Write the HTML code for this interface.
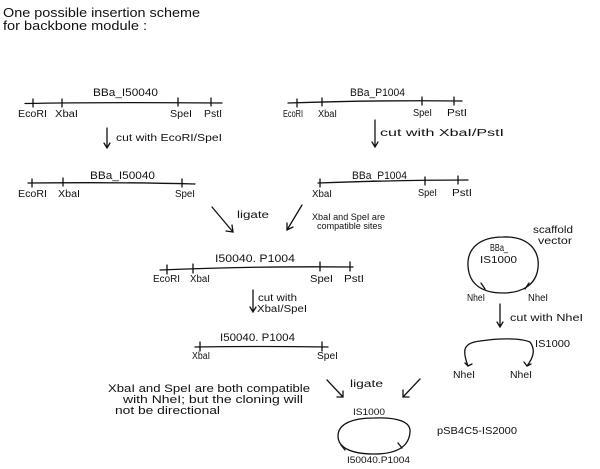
<!DOCTYPE html>
<html><head><meta charset="utf-8"><style>
html,body{margin:0;padding:0;background:#fff;}
svg{display:block;}
text{font-family:"Liberation Sans",sans-serif;fill:#111;}
</style></head><body>
<svg width="600" height="469" viewBox="0 0 600 469" xmlns="http://www.w3.org/2000/svg">
<g stroke="#111" stroke-width="1.3" fill="none" stroke-linecap="round">
<!-- Diagram 1 -->
<path d="M25 103.5 Q100 102 222 103"/>
<path d="M33 99v8M62 99v8M178 98v8M211 98v8"/>
<!-- Arrow 1 -->
<path d="M107 128v20M104 143l3 5 3-5"/>
<!-- Diagram 2 -->
<path d="M288 103 Q380 100 462 101"/>
<path d="M297 99v8M322 98v8M422 97v8M454 97v8"/>
<!-- Arrow 2 -->
<path d="M375 120v27M372 142l3 5 3-5"/>
<!-- Diagram 3 -->
<path d="M28 183 Q120 182 195 184"/>
<path d="M32 179v8M63 178v8M182 179v8"/>
<!-- Diagram 4 -->
<path d="M318 183 Q400 180 468 180"/>
<path d="M320 179v8M425 177v8M458 176v8"/>
<!-- ligate arrows -->
<path d="M212 207 L233 232M226 231l7 1-1-7"/>
<path d="M302 205 L287 230M287 223l0 7 6-3"/>
<!-- Diagram 5 -->
<path d="M160 270 Q250 266 353 267"/>
<path d="M167 265v9M193 264v9M320 262v9M350 262v9"/>
<!-- Arrow 3 -->
<path d="M253 290v22M250 307l3 5 3-5"/>
<!-- Diagram 6 -->
<path d="M195 347 Q260 346 328 347"/>
<path d="M200 342v9M322 342v9"/>
<!-- Scaffold circle -->
<path d="M503 237 C528 236 540 250 538 268 C536 285 522 293 503 293 C483 293 469 285 468 266 C467 248 480 237 503 237Z"/>
<path d="M481 283l4 6M529 283l-4 6"/>
<!-- Arrow 4 -->
<path d="M500 304v23M497 322l3 5 3-5"/>
<!-- Arc -->
<path d="M468 366 C462 350 463 343 480 341 C500 338 520 338 530 342 C536 350 533 358 527 366"/>
<path d="M465 363l3 3 4-2M524 362l3 4 4-2"/>
<!-- bottom ligate arrows -->
<path d="M327 380 L343 397M337 397l6 0 0-6"/>
<path d="M420 379 L403 397M403 390l0 7 6 0"/>
<!-- bottom ellipse -->
<path d="M374 418 C398 417 411 422 410 432 C409 446 398 454 374 454 C350 454 338 447 338 436 C338 424 352 418 374 418Z"/>
<path d="M341 445l4 5M398 443l4 5"/>
</g>

<g font-size="11">
<text x="3" y="17" font-size="13" textLength="197" lengthAdjust="spacingAndGlyphs">One possible insertion scheme</text>
<text x="3" y="30" font-size="13" textLength="144" lengthAdjust="spacingAndGlyphs">for backbone module :</text>

<text x="93" y="96" textLength="65" lengthAdjust="spacingAndGlyphs">BBa_I50040</text>
<text x="18" y="117" font-size="10" textLength="29" lengthAdjust="spacingAndGlyphs">EcoRI</text>
<text x="55" y="117" font-size="10" textLength="23" lengthAdjust="spacingAndGlyphs">XbaI</text>
<text x="170" y="117" font-size="10" textLength="22" lengthAdjust="spacingAndGlyphs">SpeI</text>
<text x="204" y="117" font-size="10" textLength="18" lengthAdjust="spacingAndGlyphs">PstI</text>
<text x="116" y="141" font-size="10" textLength="106" lengthAdjust="spacingAndGlyphs">cut with EcoRI/SpeI</text>

<text x="350" y="96" textLength="55" lengthAdjust="spacingAndGlyphs">BBa_P1004</text>
<text x="283" y="117" font-size="10" textLength="20" lengthAdjust="spacingAndGlyphs">EcoRI</text>
<text x="318" y="117" font-size="10" textLength="19" lengthAdjust="spacingAndGlyphs">XbaI</text>
<text x="413" y="116" font-size="10" textLength="19" lengthAdjust="spacingAndGlyphs">SpeI</text>
<text x="447" y="116" font-size="10" textLength="20" lengthAdjust="spacingAndGlyphs">PstI</text>
<text x="380" y="136" font-size="10" textLength="124" lengthAdjust="spacingAndGlyphs">cut with XbaI/PstI</text>

<text x="90" y="179" textLength="65" lengthAdjust="spacingAndGlyphs">BBa_I50040</text>
<text x="18" y="197" font-size="10" textLength="29" lengthAdjust="spacingAndGlyphs">EcoRI</text>
<text x="58" y="197" font-size="10" textLength="22" lengthAdjust="spacingAndGlyphs">XbaI</text>
<text x="175" y="197" font-size="10" textLength="20" lengthAdjust="spacingAndGlyphs">SpeI</text>

<text x="352" y="179" textLength="55" lengthAdjust="spacingAndGlyphs">BBa_P1004</text>
<text x="312" y="197" font-size="10" textLength="20" lengthAdjust="spacingAndGlyphs">XbaI</text>
<text x="418" y="196" font-size="10" textLength="19" lengthAdjust="spacingAndGlyphs">SpeI</text>
<text x="452" y="196" font-size="10" textLength="20" lengthAdjust="spacingAndGlyphs">PstI</text>

<text x="237" y="218" font-size="10" textLength="32" lengthAdjust="spacingAndGlyphs">ligate</text>
<text x="312" y="220" font-size="9" textLength="73" lengthAdjust="spacingAndGlyphs">XbaI and SpeI are</text>
<text x="317" y="229" font-size="9" textLength="65" lengthAdjust="spacingAndGlyphs">compatible sites</text>

<text x="215" y="262" textLength="80" lengthAdjust="spacingAndGlyphs">I50040. P1004</text>
<text x="153" y="282" font-size="10" textLength="27" lengthAdjust="spacingAndGlyphs">EcoRI</text>
<text x="190" y="282" font-size="10" textLength="20" lengthAdjust="spacingAndGlyphs">XbaI</text>
<text x="310" y="282" font-size="10" textLength="23" lengthAdjust="spacingAndGlyphs">SpeI</text>
<text x="344" y="282" font-size="10" textLength="20" lengthAdjust="spacingAndGlyphs">PstI</text>
<text x="258" y="301" font-size="10" textLength="39" lengthAdjust="spacingAndGlyphs">cut with</text>
<text x="257" y="312" font-size="10" textLength="50" lengthAdjust="spacingAndGlyphs">XbaI/SpeI</text>

<text x="220" y="341" textLength="75" lengthAdjust="spacingAndGlyphs">I50040. P1004</text>
<text x="192" y="359" font-size="10" textLength="18" lengthAdjust="spacingAndGlyphs">XbaI</text>
<text x="317" y="359" font-size="10" textLength="21" lengthAdjust="spacingAndGlyphs">SpeI</text>

<text x="490" y="251" font-size="10" textLength="18" lengthAdjust="spacingAndGlyphs">BBa_</text>
<text x="480" y="263" font-size="10" textLength="37" lengthAdjust="spacingAndGlyphs">IS1000</text>
<text x="533" y="233" font-size="10" textLength="40" lengthAdjust="spacingAndGlyphs">scaffold</text>
<text x="538" y="244" font-size="10" textLength="34" lengthAdjust="spacingAndGlyphs">vector</text>
<text x="467" y="301" font-size="10" textLength="18" lengthAdjust="spacingAndGlyphs">NheI</text>
<text x="528" y="301" font-size="10" textLength="20" lengthAdjust="spacingAndGlyphs">NheI</text>
<text x="510" y="321" font-size="10" textLength="73" lengthAdjust="spacingAndGlyphs">cut with NheI</text>
<text x="535" y="347" font-size="10" textLength="35" lengthAdjust="spacingAndGlyphs">IS1000</text>
<text x="453" y="378" font-size="10" textLength="22" lengthAdjust="spacingAndGlyphs">NheI</text>
<text x="510" y="378" font-size="10" textLength="22" lengthAdjust="spacingAndGlyphs">NheI</text>

<text x="108" y="392" font-size="11" textLength="202" lengthAdjust="spacingAndGlyphs">XbaI and SpeI are both compatible</text>
<text x="123" y="403" font-size="11" textLength="180" lengthAdjust="spacingAndGlyphs">with NheI; but the cloning will</text>
<text x="115" y="414" font-size="11" textLength="105" lengthAdjust="spacingAndGlyphs">not be directional</text>

<text x="350" y="387" font-size="10" textLength="33" lengthAdjust="spacingAndGlyphs">ligate</text>
<text x="353" y="415" font-size="9" textLength="32" lengthAdjust="spacingAndGlyphs">IS1000</text>
<text x="347" y="463" font-size="9" textLength="63" lengthAdjust="spacingAndGlyphs">I50040.P1004</text>
<text x="437" y="434" font-size="10" textLength="80" lengthAdjust="spacingAndGlyphs">pSB4C5-IS2000</text>
</g>
</svg>
</body></html>
